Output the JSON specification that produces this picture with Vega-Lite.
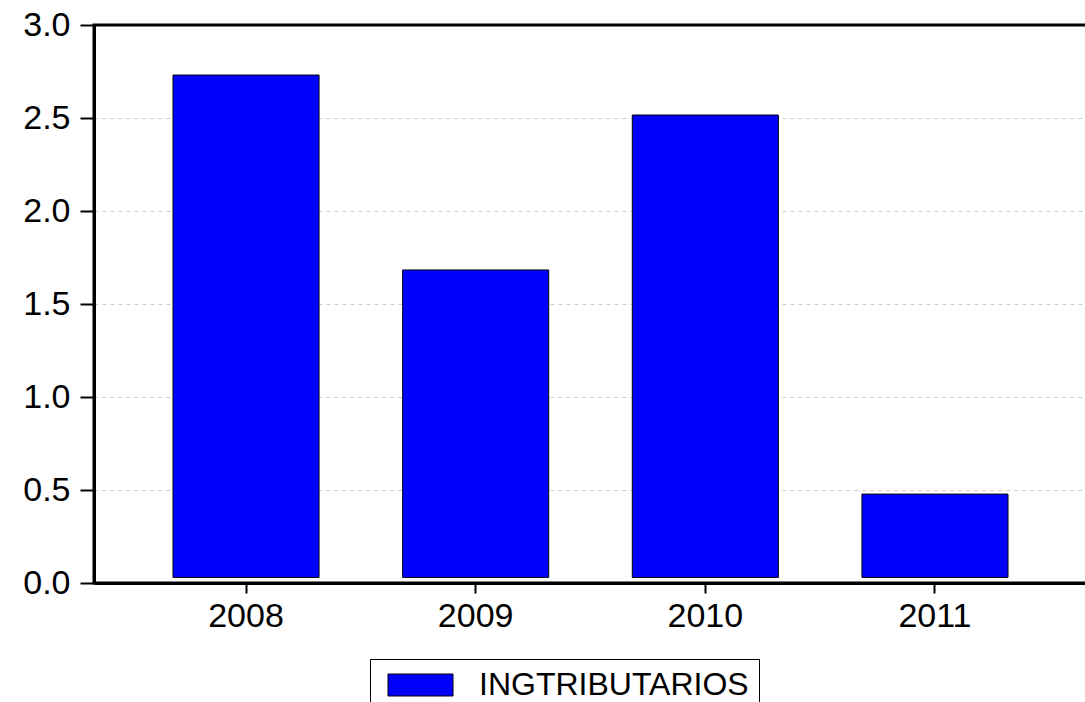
{
  "$schema": "https://vega.github.io/schema/vega-lite/v6.json",
  "autosize": "none",
  "width": 993,
  "height": 558,
  "padding": {"left": 94, "top": 25, "right": 0, "bottom": 119},
  "background": "white",
  "config": {
    "font": "Liberation Sans",
    "view": {"stroke": "black", "strokeWidth": 3}
  },
  "data": {
    "values": [
      {"year": "2008", "value": 2.731, "series": "INGTRIBUTARIOS"},
      {"year": "2009", "value": 1.683, "series": "INGTRIBUTARIOS"},
      {"year": "2010", "value": 2.516, "series": "INGTRIBUTARIOS"},
      {"year": "2011", "value": 0.478, "series": "INGTRIBUTARIOS"}
    ]
  },
  "mark": {"type": "bar", "stroke": "black", "strokeWidth": 1},
  "encoding": {
    "x": {
      "field": "year",
      "type": "ordinal",
      "scale": {"paddingInner": 0.364, "paddingOuter": 0.344},
      "axis": {
        "title": null,
        "labelAngle": 0,
        "labelFont": "Liberation Sans",
        "labelFontSize": 34,
        "labelColor": "black",
        "labelPadding": 6,
        "tickSize": 10,
        "tickWidth": 2,
        "tickColor": "black",
        "domainColor": "black",
        "domainWidth": 3,
        "grid": false
      }
    },
    "y": {
      "field": "value",
      "type": "quantitative",
      "scale": {"domain": [0, 3], "nice": false},
      "axis": {
        "title": null,
        "values": [0, 0.5, 1, 1.5, 2, 2.5, 3],
        "format": ".1f",
        "labelFont": "Liberation Sans",
        "labelFontSize": 34,
        "labelColor": "black",
        "labelPadding": 10,
        "tickSize": 14,
        "tickWidth": 2,
        "tickColor": "black",
        "domainColor": "black",
        "domainWidth": 3,
        "grid": true,
        "gridColor": "#cccccc",
        "gridDash": [4, 4],
        "gridWidth": 1,
        "gridOpacity": {"condition": {"test": "datum.value >= 3 || datum.value <= 0", "value": 0}, "value": 1}
      }
    },
    "y2": {"datum": 0.03},
    "color": {
      "field": "series",
      "type": "nominal",
      "scale": {"range": ["#0000ff"]},
      "legend": {
        "title": null,
        "orient": "none",
        "legendX": 276,
        "legendY": 634,
        "strokeColor": "black",
        "padding": 10,
        "symbolOffset": 24.5,
        "symbolType": "M-3.25,-1.1H3.25V1.1H-3.25Z",
        "symbolSize": 400,
        "symbolStrokeColor": "black",
        "symbolStrokeWidth": 1,
        "symbolOpacity": 1,
        "labelFont": "Liberation Sans",
        "labelFontSize": 32,
        "labelLimit": 600,
        "labelColor": "black",
        "labelOffset": 42.5
      }
    }
  }
}
